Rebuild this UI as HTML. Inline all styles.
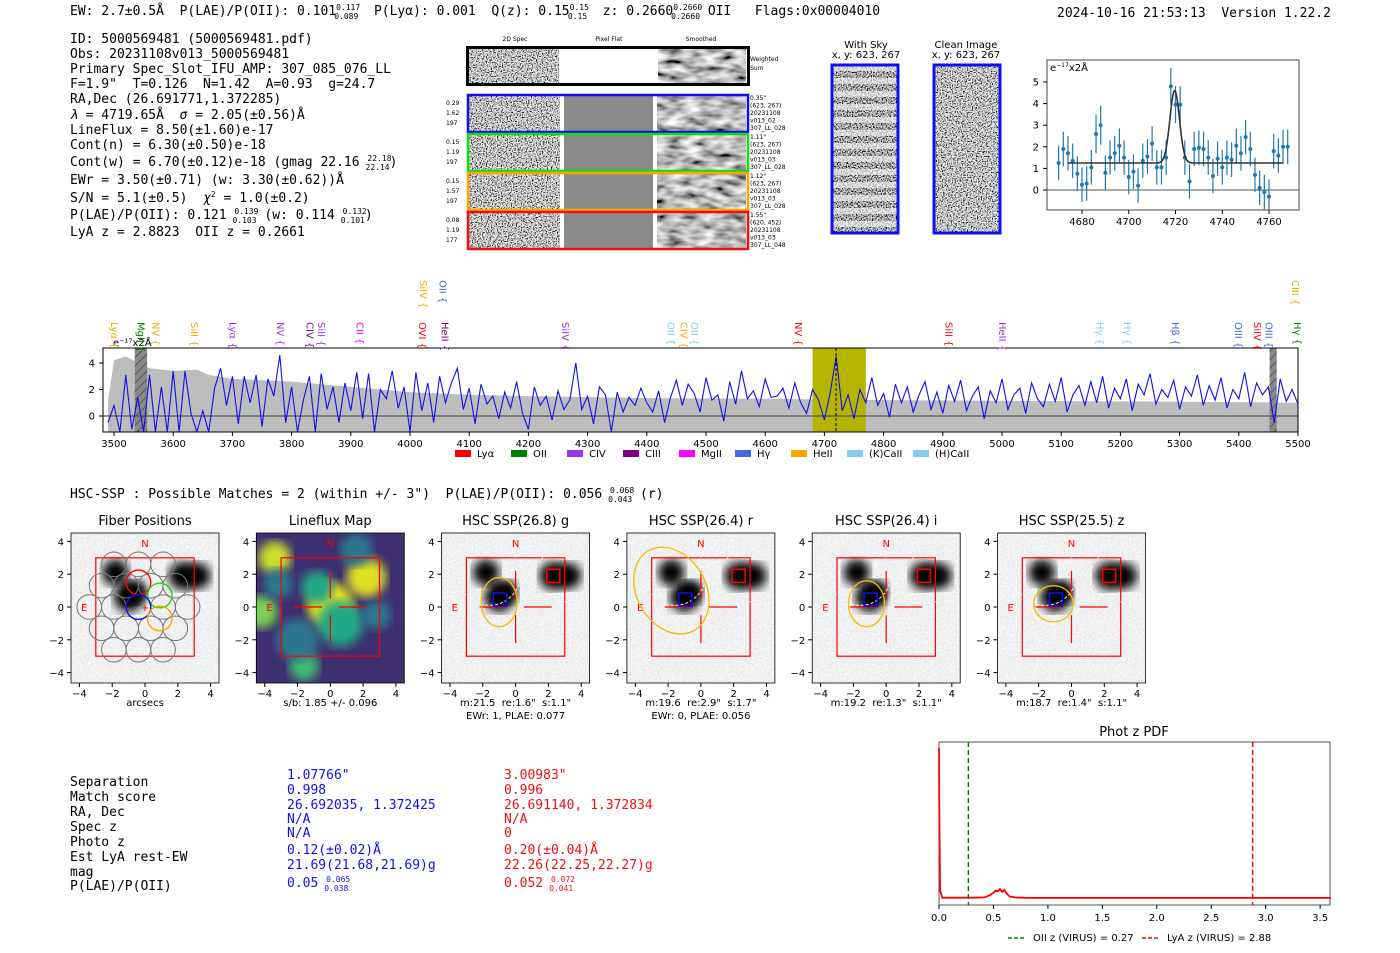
<!DOCTYPE html>
<html><head><meta charset="utf-8">
<style>
html,body{margin:0;padding:0;background:#fff;}
svg{display:block;}
text{white-space:pre;}
.m{font-family:"DejaVu Sans Mono","Liberation Mono",monospace;font-size:13px;}
.s{font-family:"DejaVu Sans","Liberation Sans",sans-serif;font-size:10px;}
.t{font-family:"DejaVu Sans","Liberation Sans",sans-serif;font-size:13px;}
.tiny{font-family:"DejaVu Sans","Liberation Sans",sans-serif;font-size:6px;}
</style></head>
<body>
<svg id="fig" width="1400" height="953" viewBox="0 0 1400 953" xmlns="http://www.w3.org/2000/svg" xml:space="preserve">
<defs>
<filter id="noise" x="0" y="0" width="100%" height="100%"><feTurbulence type="fractalNoise" baseFrequency="0.8" numOctaves="1" seed="4"/><feColorMatrix type="matrix" values="3.2 0 0 0 -1.05  3.2 0 0 0 -1.05  3.2 0 0 0 -1.05  0 0 0 0 1"/></filter>
<filter id="noise2" x="0" y="0" width="100%" height="100%"><feTurbulence type="fractalNoise" baseFrequency="0.8" numOctaves="1" seed="9"/><feColorMatrix type="matrix" values="2.8 0 0 0 -1.0  2.8 0 0 0 -1.0  2.8 0 0 0 -1.0  0 0 0 0 1"/></filter>
<filter id="smooth" x="0" y="0" width="100%" height="100%"><feTurbulence type="fractalNoise" baseFrequency="0.06 0.15" numOctaves="2" seed="7"/><feColorMatrix type="matrix" values="1.6 0 0 0 -0.3  1.6 0 0 0 -0.3  1.6 0 0 0 -0.3  0 0 0 0 1"/></filter>
<filter id="bgnoise" x="0" y="0" width="100%" height="100%"><feTurbulence type="fractalNoise" baseFrequency="0.5" numOctaves="1" seed="2"/><feColorMatrix type="matrix" values="0.3 0 0 0 0.72  0.3 0 0 0 0.72  0.3 0 0 0 0.72  0 0 0 0 1"/></filter>
<filter id="blur4"><feGaussianBlur stdDeviation="5"/></filter>
<pattern id="stripes" width="10" height="13" patternUnits="userSpaceOnUse"><rect width="10" height="6" fill="#fff" opacity="0.6"/></pattern>
<pattern id="hatch" width="6" height="6" patternUnits="userSpaceOnUse" patternTransform="rotate(45)"><line x1="0" y1="0" x2="0" y2="6" stroke="#333" stroke-width="1"/></pattern>
<clipPath id="specclip"><rect x="103" y="348" width="1195" height="84"/></clipPath>
<clipPath id="zclip"><rect x="1047" y="60" width="252" height="150"/></clipPath>
</defs>

<text class="m" x="70" y="15">EW: 2.7±0.5Å  P(LAE)/P(OII): 0.101<tspan font-size="8" dy="-5">0.117</tspan><tspan font-size="8" dx="-26" dy="9">0.089</tspan><tspan dy="-4">  P(Lyα): 0.001  Q(z): 0.15</tspan><tspan font-size="8" dy="-5">0.15</tspan><tspan font-size="8" dx="-21" dy="9">0.15</tspan><tspan dy="-4">  z: 0.2660</tspan><tspan font-size="8" dy="-5">0.2660</tspan><tspan font-size="8" dx="-31" dy="9">0.2660</tspan><tspan dy="-4"> OII   Flags:0x00004010</tspan></text>
<text class="m" x="1057" y="17">2024-10-16 21:53:13  Version 1.22.2</text>

<g>
<text class="m" x="70" y="43">ID: 5000569481 (5000569481.pdf)</text>
<text class="m" x="70" y="58">Obs: 20231108v013_5000569481</text>
<text class="m" x="70" y="73">Primary Spec_Slot_IFU_AMP: 307_085_076_LL</text>
<text class="m" x="70" y="88">F=1.9"  T=0.126  N=1.42  A=0.93  g=24.7</text>
<text class="m" x="70" y="103">RA,Dec (26.691771,1.372285)</text>
<text class="m" x="70" y="119"><tspan font-style="italic">λ</tspan> = 4719.65Å  <tspan font-style="italic">σ</tspan> = 2.05(±0.56)Å</text>
<text class="m" x="70" y="134">LineFlux = 8.50(±1.60)e-17</text>
<text class="m" x="70" y="149">Cont(n) = 6.30(±0.50)e-18</text>
<text class="m" x="70" y="166">Cont(w) = 6.70(±0.12)e-18 (gmag 22.16 <tspan font-size="8" dy="-5">22.18</tspan><tspan font-size="8" dx="-26" dy="9">22.14</tspan><tspan dy="-4">)</tspan></text>
<text class="m" x="70" y="184">EWr = 3.50(±0.71) (w: 3.30(±0.62))Å</text>
<text class="m" x="70" y="202">S/N = 5.1(±0.5)  <tspan font-style="italic">χ</tspan><tspan font-size="8" dy="-5">2</tspan><tspan dy="5"> = 1.0(±0.2)</tspan></text>
<text class="m" x="70" y="219">P(LAE)/P(OII): 0.121 <tspan font-size="8" dy="-5">0.139</tspan><tspan font-size="8" dx="-26" dy="9">0.103</tspan><tspan dy="-4"> (w: 0.114 </tspan><tspan font-size="8" dy="-5">0.132</tspan><tspan font-size="8" dx="-26" dy="9">0.101</tspan><tspan dy="-4">)</tspan></text>
<text class="m" x="70" y="236">LyA z = 2.8823  OII z = 0.2661</text>
</g>

<g>
<text class="tiny" x="515" y="41" text-anchor="middle">2D Spec</text>
<text class="tiny" x="609" y="41" text-anchor="middle">Pixel Flat</text>
<text class="tiny" x="701" y="41" text-anchor="middle">Smoothed</text>
<rect x="469" y="48" width="90" height="35" filter="url(#noise)"/>
<rect x="658" y="48" width="88" height="35" filter="url(#smooth)"/>
<rect x="467.5" y="47.5" width="281" height="37" fill="none" stroke="#000" stroke-width="3"/>
<text class="tiny" x="750" y="61" font-size="7">Weighted</text>
<text class="tiny" x="750" y="70" font-size="7">Sum</text>
<g id="rows"></g>
</g>

<g>
<text class="s" x="866" y="48" text-anchor="middle">With Sky</text>
<text class="s" x="866" y="58" text-anchor="middle">x, y: 623, 267</text>
<rect x="832" y="65" width="66" height="168" filter="url(#noise2)"/>
<rect x="832" y="65" width="66" height="168" fill="url(#stripes)"/>
<rect x="832" y="65" width="66" height="168" fill="none" stroke="#1010ee" stroke-width="3"/>
<text class="s" x="966" y="48" text-anchor="middle">Clean Image</text>
<text class="s" x="966" y="58" text-anchor="middle">x, y: 623, 267</text>
<rect x="934" y="65" width="66" height="168" filter="url(#noise)"/>
<rect x="934" y="65" width="66" height="168" fill="none" stroke="#1010ee" stroke-width="3"/>
</g>

<g id="zoomplot">
<rect x="1047" y="60" width="252" height="150" fill="#fff" stroke="#444" stroke-width="1"/>
<text class="s" x="1050" y="71" font-size="9">e<tspan font-size="6" dy="-4">−17</tspan><tspan dy="4">x2Å</tspan></text>
</g>

<g id="spec"></g>

<text class="m" x="70" y="498">HSC-SSP : Possible Matches = 2 (within +/- 3")  P(LAE)/P(OII): 0.056 <tspan font-size="8" dy="-5">0.068</tspan><tspan font-size="8" dx="-26" dy="9">0.043</tspan><tspan dy="-4"> (r)</tspan></text>

<g id="thumbs"></g>

<g font-family="DejaVu Sans Mono, Liberation Mono, monospace" font-size="13">
<text x="70" y="786">Separation</text><text x="70" y="801">Match score</text><text x="70" y="816">RA, Dec</text><text x="70" y="831">Spec z</text><text x="70" y="846">Photo z</text><text x="70" y="861">Est LyA rest-EW</text><text x="70" y="876">mag</text><text x="70" y="890">P(LAE)/P(OII)</text>
<g fill="#1010ee">
<text x="287" y="779">1.07766"</text><text x="287" y="794">0.998</text><text x="287" y="809">26.692035, 1.372425</text><text x="287" y="823">N/A</text><text x="287" y="837">N/A</text><text x="287" y="854">0.12(±0.02)Å</text><text x="287" y="869">21.69(21.68,21.69)g</text><text x="287" y="887">0.05 <tspan font-size="8" dy="-5">0.065</tspan><tspan font-size="8" dx="-26" dy="9">0.038</tspan></text>
</g>
<g fill="#ee1010">
<text x="504" y="779">3.00983"</text><text x="504" y="794">0.996</text><text x="504" y="809">26.691140, 1.372834</text><text x="504" y="823">N/A</text><text x="504" y="837">0</text><text x="504" y="854">0.20(±0.04)Å</text><text x="504" y="869">22.26(22.25,22.27)g</text><text x="504" y="887">0.052 <tspan font-size="8" dy="-5">0.072</tspan><tspan font-size="8" dx="-26" dy="9">0.041</tspan></text>
</g>
</g>

<g id="pdf"></g>
</svg>

<script>
// ===== data =====
const specStart = 3490, specStep = 10;
const specFlux = [
-0.5,0.8,-1.2,3.1,-1,1.4,-1.2,3.1,-1.2,2.2,
-1.2,3.4,-1.2,3.4,0.2,-1.2,0.4,-1.2,2.1,3.6,
0.8,3.0,-0.6,3.0,1.0,3.1,-0.8,2.8,1.5,4.6,
-0.5,2.2,-1.2,1.2,3.0,-1.2,3.2,0.5,2.2,-0.5,
2.5,0.4,3.3,-0.2,3.2,-1.2,2.0,1.3,3.4,0.6,
2.2,-1.2,3.3,0.4,2.5,-0.5,3.0,1.0,2.5,3.6,
0.5,2.1,-0.6,2.4,0.9,1.5,-0.2,1.8,0.6,2.6,
0.2,-1.0,2.2,0.8,1.5,-0.3,1.9,0.5,1.2,4.0,
0.5,1.5,-0.6,2.2,1.6,-1.2,1.8,0.3,1.4,0.8,
2.1,1.0,0.3,1.9,-0.5,1.4,2.7,0.8,2.4,1.7,
0.3,2.9,1.2,1.6,-0.4,2.6,0.9,3.4,1.3,1.9,
0.7,2.8,1.4,1.5,2.1,0.6,2.5,1.0,0.2,2.0,
1.2,-0.3,1.8,4.5,0.4,1.6,-0.2,2.0,1.0,2.9,
0.8,1.7,-0.1,2.4,1.0,2.2,0.3,1.6,2.6,0.5,
1.8,0.2,2.3,1.1,2.7,0.4,1.5,2.2,-0.2,1.9,
1.0,2.8,0.5,1.6,2.1,0.2,2.5,1.3,0.7,2.4,
1.1,2.9,0.3,1.6,2.3,0.8,2.6,1.0,3.0,0.6,
2.1,1.3,2.8,0.4,2.4,1.6,3.2,0.9,2.0,1.4,
2.7,0.5,2.2,1.5,3.1,0.8,2.3,1.2,2.9,0.6,
2.0,1.3,3.3,0.7,2.5,1.6,2.2,-0.5,2.8,1.1,
2.0,0.9];
const errWave = [3490,3500,3520,3560,3600,3640,3660,3700,3750,3800,3900,4000,4100,4200,4400,4600,4800,5000,5200,5400,5500];
const errTop  = [1.2,4.2,4.5,3.6,3.4,3.5,3.1,2.8,2.7,2.6,2.2,1.8,1.6,1.5,1.35,1.3,1.2,1.15,1.1,1.05,1.0];
const specXTicks = [3500,3600,3700,3800,3900,4000,4100,4200,4300,4400,4500,4600,4700,4800,4900,5000,5100,5200,5300,5400,5500];
const specYTicks = [0,2,4];
const lineNames  = ["Lyα","MgII","NV","SiII","Lyα","NV","CIV","SiII","CII","OVI","HeII","SiIV","OII","SiIV","OII","CIV","OII","NV","SiII","HeII","Hγ","Hγ","Hβ","OIII","SiIV","OIII","Hγ","CIII"];
const lineWaves  = [3500,3545,3570,3635,3700,3780,3830,3850,3915,4020,4058,4022,4055,4262,4440,4462,4480,4655,4910,5000,5165,5211,5292,5399,5431,5450,5498,5495];
const lineColors = ["orange","green","orange","orange","#9933ee","#9933ee","purple","#9933ee","magenta","red","purple","orange","royalblue","#9933ee","skyblue","orange","skyblue","red","red","#9933ee","skyblue","skyblue","royalblue","royalblue","red","royalblue","green","orange"];
const lineRows   = [0,0,0,0,0,0,0,0,0,0,0,1,1,0,0,0,0,0,0,0,0,0,0,0,0,0,0,1];
const legNames = ["Lyα","OII","CIV","CIII","MgII","Hγ","HeII","(K)CaII","(H)CaII"];
const legColors = ["red","green","#9933ee","purple","magenta","royalblue","orange","skyblue","skyblue"];

const zWave = [4670,4672,4674,4676,4678,4680,4682,4684,4686,4688,4690,4692,4694,4696,4698,4700,4702,4704,4706,4708,4710,4712,4714,4716,4718,4720,4722,4724,4726,4728,4730,4732,4734,4736,4738,4740,4742,4744,4746,4748,4750,4752,4754,4756,4758,4760,4762,4764,4766,4768];
const zFlux = [1.25,1.9,1.7,1.35,0.75,0.25,0.3,1.05,2.6,3.0,0.8,1.5,1.7,2.05,1.5,0.6,0.85,0.2,1.35,1.55,2.15,1.05,1.05,1.5,4.8,3.95,3.95,1.5,0.4,1.9,1.95,1.9,1.5,0.65,1.45,1.05,1.5,1.4,2.05,1.7,2.45,1.9,0.7,0.1,-0.1,-0.3,1.8,1.6,2.0,2.0];
const zErr = [0.8,0.8,0.8,0.8,0.8,0.8,0.8,0.8,0.9,0.9,0.8,0.8,0.8,0.8,0.8,0.8,0.8,0.8,0.8,0.8,0.8,0.8,0.8,0.8,0.85,0.85,0.85,0.8,0.8,0.8,0.8,0.8,0.8,0.8,0.8,0.8,0.8,0.8,0.8,0.8,0.8,0.8,0.8,0.8,0.8,0.8,0.8,0.8,0.8,0.8];
const fitCont = [1.25], fitAmp = [3.35], fitCenter = [4719.65], fitSigma = [2.05];
const zXTicks = [4680,4700,4720,4740,4760];
const zYTicks = [0,1,2,3,4,5];

const rowColors = ["#1010ee","#11dd11","orange","#ee1010"];
const rowStats = [["0.29","1.62","197"],["0.15","1.19","197"],["0.15","1.57","197"],["0.08","1.19","177"]];
const rowInfo = [["0.35\"","(623, 267)","20231108","v013_02","307_LL_028"],["1.11\"","(623, 267)","20231108","v013_03","307_LL_028"],["1.12\"","(623, 267)","20231108","v013_03","307_LL_028"],["1.55\"","(620, 452)","20231108","v013_03","307_LL_048"]];

const thumbTitles = ["Fiber Positions","Lineflux Map","HSC SSP(26.8) g","HSC SSP(26.4) r","HSC SSP(26.4) i","HSC SSP(25.5) z"];
const thumbCap1 = ["arcsecs","s/b: 1.85 +/- 0.096","m:21.5  re:1.6\"  s:1.1\"","m:19.6  re:2.9\"  s:1.7\"","m:19.2  re:1.3\"  s:1.1\"","m:18.7  re:1.4\"  s:1.1\""];
const thumbCap2 = ["","","EWr: 1, PLAE: 0.077","EWr: 0, PLAE: 0.056","",""];
const blobX = [-1.8,-1.0,-0.6,2.3,3.2];
const blobY = [2.1,0.6,0.9,1.9,1.9];
const blobR = [0.8,0.9,0.7,0.85,0.8];
const ellA = [0,0,1.1,2.1,1.1,1.2], ellB = [0,0,1.5,2.8,1.4,1.1], ellX=[0,0,-1.0,-1.8,-1.2,-1.1], ellY=[0,0,0.3,1.0,0.2,0.2], ellRot=[0,0,0,-30,0,0];
const thumbTicks = [-4,-2,0,2,4];

const pdfZ = [0,0.003,0.01,0.03,0.1,0.3,0.42,0.47,0.5,0.52,0.54,0.56,0.58,0.6,0.62,0.65,0.7,0.8,1.5,3.6];
const pdfP = [1.0,0.6,0.05,0.002,0.002,0.002,0.004,0.02,0.035,0.05,0.045,0.06,0.04,0.055,0.03,0.01,0.004,0.001,0.001,0.001];
const pdfXTicks = [0.0,0.5,1.0,1.5,2.0,2.5,3.0,3.5];
const zOII = [0.27], zLyA = [2.88];

const NS = "http://www.w3.org/2000/svg";
function mk(parent, tag, attrs, text){
  const e = document.createElementNS(NS, tag);
  for (const k in attrs) e.setAttribute(k, attrs[k]);
  if (text !== undefined) e.textContent = text;
  parent.appendChild(e); return e;
}

// ===== 2D rows =====
const rows = document.getElementById('rows');
rowColors.forEach((c,i)=>{
  const y = 95 + i*39;
  const g = mk(rows,'g',{});
  
  
  mk(g,'rect',{x:469,y:y,width:91,height:37,filter:'url(#noise)'});
  mk(g,'rect',{x:564,y:y,width:89,height:37,fill:'#8a8a8a'});
  mk(g,'rect',{x:657,y:y,width:89,height:37,filter:'url(#smooth)'});
  mk(g,'rect',{x:468,y:y,width:280,height:37,fill:'none',stroke:c,'stroke-width':2.5});
  rowStats[i].forEach((s,k)=>mk(g,'text',{class:'tiny',x:446,y:y+10+k*10,'font-size':7},s));
  rowInfo[i].forEach((s,k)=>mk(g,'text',{class:'tiny',x:750,y:y+5+k*7.5,'font-size':5.5},s));
});

// ===== zoom plot =====
const zp = document.getElementById('zoomplot');
const zx = w => 1082 + (w-4680)*(1269-1082)/80;
const zy = v => 190 - v*21.6;
mk(zp,'line',{x1:1047,x2:1299,y1:zy(0),y2:zy(0),stroke:'#777','stroke-width':1.2});
zXTicks.forEach(t=>{mk(zp,'line',{x1:zx(t),x2:zx(t),y1:210,y2:214,stroke:'#000'});mk(zp,'text',{class:'s',x:zx(t),y:225,'text-anchor':'middle'},t);});
zYTicks.forEach(t=>{mk(zp,'line',{x1:1043,x2:1047,y1:zy(t),y2:zy(t),stroke:'#000'});mk(zp,'text',{class:'s',x:1039,y:zy(t)+3.5,'text-anchor':'end'},t);});
const zg = mk(zp,'g',{'clip-path':'url(#zclip)'});
zWave.forEach((w,i)=>{
  const ln = mk(zg,'line',{x1:zx(w),x2:zx(w),y1:zy(zFlux[i]-zErr[i]),y2:zy(zFlux[i]+zErr[i]),stroke:'#1f77b4','stroke-width':1.2});
  
  
  const pt = mk(zg,'circle',{cx:zx(w),cy:zy(zFlux[i]),r:2,fill:'#1f77b4'});
  
  
});
let fd='';
for(let w=zWave[2]; w<=zWave[zWave.length-2]; w+=0.25){
  const v = fitCont[0] + fitAmp[0]*Math.exp(-0.5*Math.pow((w-fitCenter[0])/fitSigma[0],2));
  fd += (fd?'L':'M')+zx(w).toFixed(1)+','+zy(v).toFixed(1);
}
const fit = mk(zg,'path',{d:fd,fill:'none',stroke:'#333','stroke-width':1.6});



// ===== main spectrum =====
const sp = document.getElementById('spec');
const sx = w => 114 + (w-3500)*(1298-114)/2000;
const sy = v => 416 - v*13.25;
const sc = mk(sp,'g',{'clip-path':'url(#specclip)'});
let ed = 'M'+sx(errWave[0])+',432';
errWave.forEach((w,i)=>{ ed += 'L'+sx(w).toFixed(1)+','+sy(errTop[i]).toFixed(1); });
ed += 'L'+sx(errWave[errWave.length-1])+',432Z';
const err = mk(sc,'path',{d:ed,fill:'#bdbdbd'});


const yb = mk(sc,'rect',{x:sx(4680),y:348,width:sx(4770)-sx(4680),height:84,fill:'#b5b500'});


[[3535,3556],[5452,5464]].forEach(r=>{
  mk(sc,'rect',{x:sx(r[0]),y:348,width:sx(r[1])-sx(r[0]),height:84,fill:'#888'});
  mk(sc,'rect',{x:sx(r[0]),y:348,width:sx(r[1])-sx(r[0]),height:84,fill:'url(#hatch)'});
});
mk(sc,'line',{x1:103,x2:1298,y1:sy(0),y2:sy(0),stroke:'#555','stroke-width':1.2});
let pd='';
specFlux.forEach((v,i)=>{ pd += (i?'L':'M')+sx(specStart+i*specStep).toFixed(1)+','+sy(v).toFixed(1); });
const sl = mk(sc,'path',{d:pd,fill:'none',stroke:'#1010ee','stroke-width':1.1});


mk(sc,'line',{x1:sx(4719.65),x2:sx(4719.65),y1:348,y2:432,stroke:'#000','stroke-dasharray':'3,2'});
mk(sp,'rect',{x:103,y:348,width:1195,height:84,fill:'none',stroke:'#000','stroke-width':1});
mk(sp,'text',{class:'s',x:113,y:346,'font-size':10},'e⁻¹⁷x2Å');
specXTicks.forEach(t=>{mk(sp,'line',{x1:sx(t),x2:sx(t),y1:432,y2:436,stroke:'#000'});mk(sp,'text',{class:'s',x:sx(t),y:447,'text-anchor':'middle'},t);});
specYTicks.forEach(t=>{mk(sp,'line',{x1:99,x2:103,y1:sy(t),y2:sy(t),stroke:'#000'});mk(sp,'text',{class:'s',x:95,y:sy(t)+3.5,'text-anchor':'end'},t);});
lineNames.forEach((n,i)=>{
  const x = sx(lineWaves[i]), y = lineRows[i]? 280 : 322;
  const t = mk(sp,'text',{class:'s',x:x-3,y:y,fill:lineColors[i],transform:'rotate(90 '+(x-3)+' '+y+')','font-size':9},n+' {');
  
  
});
legNames.forEach((n,i)=>{
  const x = 455 + i*56 + (i>7?10:0);
  const it = mk(sp,'g',{});
  
  
  mk(it,'rect',{x:x,y:450,width:16,height:7,fill:legColors[i]});
  mk(it,'text',{class:'s',x:x+22,y:457,'font-size':8},n);
});

// ===== thumbnails =====
const th = document.getElementById('thumbs');
thumbTitles.forEach((title,p)=>{
  const L = 71 + p*185.3, T = 533, W = 148, H = 150;
  const cx = L + W/2, cy = 607, k = 16.4;
  const X = a => cx + a*k, Y = b => cy - b*k;
  const g = mk(th,'g',{});
  
  
  const clipId = 'tc'+p;
  const cp = mk(g,'clipPath',{id:clipId}); mk(cp,'rect',{x:L,y:T,width:W,height:H});
  const inner = mk(g,'g',{'clip-path':'url(#'+clipId+')'});
  if (p===1){
    mk(inner,'rect',{x:L,y:T,width:W,height:H,fill:'#3e2f70'});
    const gx=[0,2.2,-3.4,-4.2,-1.6,0.6,-2,1.6,-0.8,2.8,-3.2], gy=[0.1,1.8,3.0,-0.3,-3.6,-1,-2,3.5,1.2,-0.5,1.4], gr=[1.4,1.2,1.0,1.0,0.9,1.4,1.3,1.0,1.0,0.9,0.9],
      gc=['#e8e51a','#e0e020','#c8e02a','#7ad151','#3fbc73','#22a884','#2a788e','#2a788e','#22a884','#2a788e','#2a788e'];
    gx.forEach((a,i)=>mk(inner,'circle',{cx:X(a),cy:Y(gy[i]),r:gr[i]*k,fill:gc[i],filter:'url(#blur4)'}));
  } else {
    mk(inner,'rect',{x:L,y:T,width:W,height:H,filter:'url(#bgnoise)'});
    blobX.forEach((a,i)=>mk(inner,'circle',{cx:X(a),cy:Y(blobY[i]),r:blobR[i]*k,fill:'#000',filter:'url(#blur4)'}));
  }
  mk(inner,'rect',{x:X(-3),y:Y(3),width:6*k,height:6*k,fill:'none',stroke:'red','stroke-width':1.2});
  mk(inner,'text',{class:'s',x:X(-3.9),y:Y(0)+4,fill:'red','font-size':11},'E');
  mk(inner,'text',{class:'s',x:X(0),y:Y(3.9)+4,fill:'red','font-size':11,'text-anchor':'middle'},'N');
  if (p===0){
    for(let a=-4;a<=4;a++)for(let b=-3;b<=3;b++){
      const xx = -0.4 + a*1.5 + b*0.75, yy = b*1.3;
      if (Math.hypot(xx+0.4,yy)>3.2) continue;
      mk(inner,'circle',{cx:X(xx),cy:Y(yy),r:0.75*k,fill:'none',stroke:'#777','stroke-width':1});
    }
    mk(inner,'circle',{cx:X(-0.4),cy:Y(1.5),r:0.75*k,fill:'none',stroke:'red','stroke-width':1.4});
    mk(inner,'circle',{cx:X(0.9),cy:Y(0.7),r:0.75*k,fill:'none',stroke:'#11dd11','stroke-width':1.4});
    mk(inner,'circle',{cx:X(-0.4),cy:Y(0),r:0.75*k,fill:'none',stroke:'#1010ee','stroke-width':1.4});
    mk(inner,'circle',{cx:X(0.9),cy:Y(-0.7),r:0.75*k,fill:'none',stroke:'orange','stroke-width':1.4});
    mk(inner,'text',{class:'s',x:X(0),y:Y(0)+4,fill:'red','font-size':11,'text-anchor':'middle'},'+');
  } else {
    mk(inner,'line',{x1:X(-2.2),x2:X(-0.5),y1:Y(0),y2:Y(0),stroke:'red','stroke-width':1.2});
    mk(inner,'line',{x1:X(0.5),x2:X(2.2),y1:Y(0),y2:Y(0),stroke:'red','stroke-width':1.2});
    mk(inner,'line',{x1:X(0),x2:X(0),y1:Y(2.2),y2:Y(0.5),stroke:'red','stroke-width':1.2});
    mk(inner,'line',{x1:X(0),x2:X(0),y1:Y(-0.5),y2:Y(-2.2),stroke:'red','stroke-width':1.2});
  }
  if (p>=2){
    mk(inner,'circle',{cx:X(-1.6),cy:Y(2.0),r:1.9*k,fill:'none',stroke:'#eee','stroke-dasharray':'3,2'});
    mk(inner,'circle',{cx:X(2.8),cy:Y(1.9),r:1.6*k,fill:'none',stroke:'#eee','stroke-dasharray':'3,2'});
    mk(inner,'ellipse',{cx:X(ellX[p]),cy:Y(ellY[p]),rx:ellA[p]*k,ry:ellB[p]*k,fill:'none',stroke:'#f0c000','stroke-width':1.3,transform:'rotate('+ellRot[p]+' '+X(ellX[p])+' '+Y(ellY[p])+')'});
    mk(inner,'rect',{x:X(-1.35),y:Y(0.85),width:0.8*k,height:0.8*k,fill:'none',stroke:'#1010ee','stroke-width':1.5});
    mk(inner,'rect',{x:X(1.9),y:Y(2.3),width:0.8*k,height:0.8*k,fill:'none',stroke:'red','stroke-width':1.5});
  }
  mk(g,'rect',{x:L,y:T,width:W,height:H,fill:'none',stroke:'#000','stroke-width':0.8});
  mk(g,'text',{class:'t',x:cx,y:525,'text-anchor':'middle'},title);
  thumbTicks.forEach(t=>{
    mk(g,'line',{x1:X(t),x2:X(t),y1:T+H,y2:T+H+4,stroke:'#000'});
    mk(g,'text',{class:'s',x:X(t),y:T+H+14,'text-anchor':'middle'},t<0?'−'+(-t):t);
    mk(g,'line',{x1:L-4,x2:L,y1:Y(t),y2:Y(t),stroke:'#000'});
    mk(g,'text',{class:'s',x:L-7,y:Y(t)+4,'text-anchor':'end'},t<0?'−'+(-t):t);
  });
  mk(g,'text',{class:'s',x:cx,y:706,'text-anchor':'middle','font-size':10.5},thumbCap1[p]);
  if (thumbCap2[p]) mk(g,'text',{class:'s',x:cx,y:719,'text-anchor':'middle','font-size':10.5},thumbCap2[p]);
});

// ===== photo-z PDF =====
const pg = document.getElementById('pdf');
const px = z => 939 + z*108.9;
const py = v => 898 - v*150;
mk(pg,'text',{class:'t',x:1134,y:736,'text-anchor':'middle'},'Phot z PDF');
mk(pg,'rect',{x:939,y:742,width:391,height:163,fill:'#fff',stroke:'#555','stroke-width':1});
let qd='';
pdfZ.forEach((z,i)=>{ qd += (i?'L':'M')+px(z).toFixed(1)+','+Math.max(743,py(pdfP[i])).toFixed(1); });
const pl = mk(pg,'path',{d:qd,fill:'none',stroke:'red','stroke-width':1.8});


const g1 = mk(pg,'line',{x1:px(zOII[0]),x2:px(zOII[0]),y1:742,y2:905,stroke:'green','stroke-width':1.5,'stroke-dasharray':'5,3'});


const r1 = mk(pg,'line',{x1:px(zLyA[0]),x2:px(zLyA[0]),y1:742,y2:905,stroke:'red','stroke-width':1.5,'stroke-dasharray':'5,3'});


pdfXTicks.forEach(t=>{mk(pg,'line',{x1:px(t),x2:px(t),y1:905,y2:909,stroke:'#000'});mk(pg,'text',{class:'s',x:px(t),y:921,'text-anchor':'middle','font-size':10.5},t.toFixed(1));});
mk(pg,'line',{x1:1008,x2:1026,y1:938,y2:938,stroke:'green','stroke-width':1.5,'stroke-dasharray':'4,2'});
mk(pg,'text',{class:'s',x:1033,y:941,'font-size':8},'OII z (VIRUS) = 0.27');
mk(pg,'line',{x1:1142,x2:1160,y1:938,y2:938,stroke:'red','stroke-width':1.5,'stroke-dasharray':'4,2'});
mk(pg,'text',{class:'s',x:1167,y:941,'font-size':8},'LyA z (VIRUS) = 2.88');
</script>
</body></html>
